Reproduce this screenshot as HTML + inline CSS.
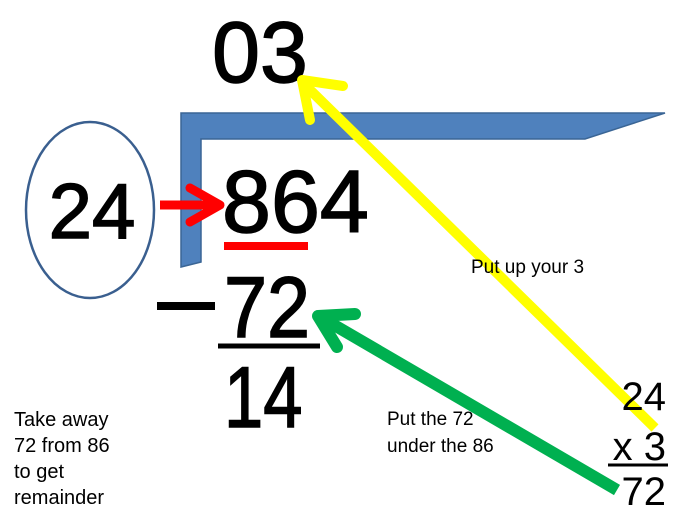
<!DOCTYPE html>
<html><head><meta charset="utf-8"><style>
body{margin:0;background:#fff;}
svg{display:block;}
text{font-family:"Liberation Sans",sans-serif;fill:#000;}
.b{stroke:#000;stroke-width:1.5;}
</style></head><body>
<svg width="682" height="531" viewBox="0 0 682 531">
<polygon points="181,113 665,113 585,139 201,139 201,262 181,267" fill="#4f81bd" stroke="#3a6595" stroke-width="1.5"/>
<ellipse cx="90" cy="210" rx="64" ry="88" fill="none" stroke="#3a5f8f" stroke-width="2.5"/>
<text class="b" x="260" y="82" font-size="86" text-anchor="middle">03</text>
<text class="b" x="92" y="238" font-size="78" text-anchor="middle">24</text>
<text class="b" x="222" y="232" font-size="88">864</text>
<line x1="160" y1="205" x2="212" y2="205" stroke="#f00" stroke-width="9"/>
<polyline points="190,188 220,205 190,222" fill="none" stroke="#f00" stroke-width="9" stroke-linecap="round" stroke-linejoin="round"/>
<line x1="224" y1="246" x2="308" y2="246" stroke="#f00" stroke-width="8"/>
<line x1="157" y1="306" x2="215" y2="306" stroke="#000" stroke-width="8"/>
<text class="b" x="0" y="0" font-size="86" transform="translate(224,337) scale(0.9,1)">72</text>
<line x1="218" y1="346" x2="320" y2="346" stroke="#000" stroke-width="5"/>
<text class="b" x="0" y="0" font-size="86" transform="translate(224,427) scale(0.82,1)">14</text>
<line x1="655" y1="428" x2="306" y2="86" stroke="#ff0" stroke-width="10"/>
<polyline points="310,120 302,80 343,86" fill="none" stroke="#ff0" stroke-width="10" stroke-linecap="round" stroke-linejoin="round"/>
<line x1="617" y1="490" x2="322" y2="318" stroke="#00b050" stroke-width="12"/>
<polyline points="355,314 318,316 337,347" fill="none" stroke="#00b050" stroke-width="12" stroke-linecap="round" stroke-linejoin="round"/>
<text x="471" y="273" font-size="19">Put up your 3</text>
<text x="387" y="425" font-size="19">Put the 72</text>
<text x="387" y="452" font-size="19">under the 86</text>
<text x="14" y="426" font-size="20">Take away</text>
<text x="14" y="452" font-size="20">72 from 86</text>
<text x="14" y="478" font-size="20">to get</text>
<text x="14" y="504" font-size="20">remainder</text>
<text x="666" y="410" font-size="40" text-anchor="end">24</text>
<text x="666" y="460" font-size="40" text-anchor="end">x 3</text>
<line x1="608" y1="465" x2="668" y2="465" stroke="#000" stroke-width="3"/>
<text x="666" y="505" font-size="40" text-anchor="end">72</text>
</svg>
</body></html>
